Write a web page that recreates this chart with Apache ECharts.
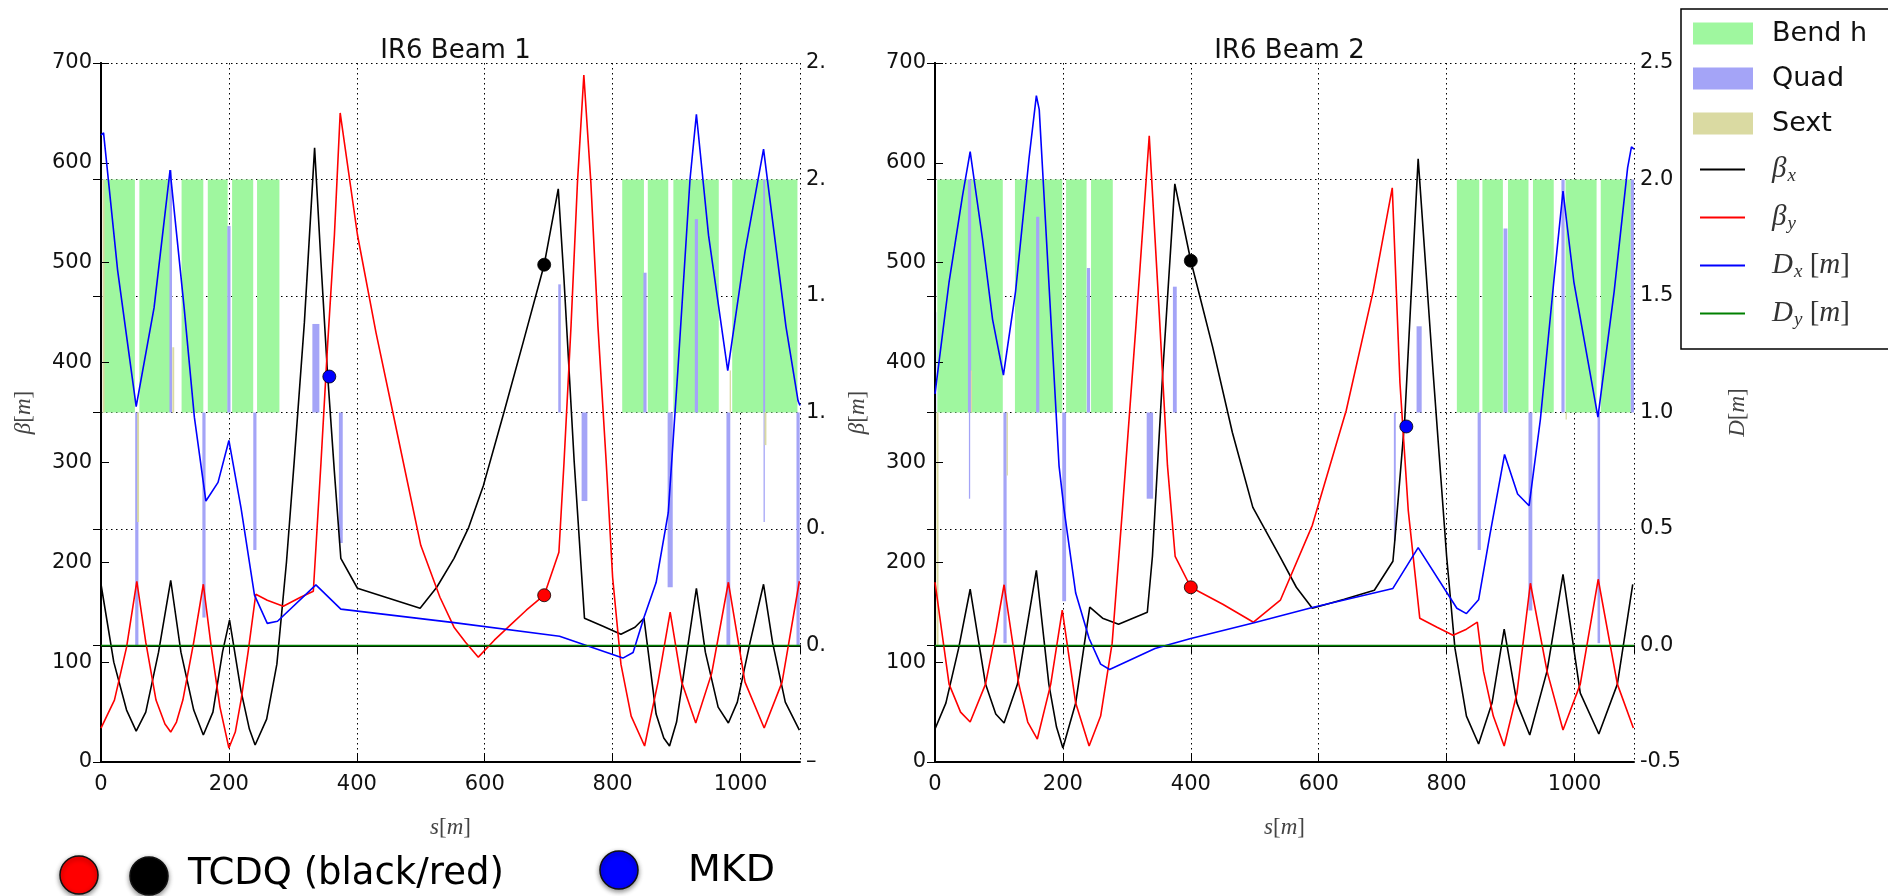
<!DOCTYPE html>
<html><head><meta charset="utf-8">
<script src="https://cdn.jsdelivr.net/npm/echarts/dist/echarts.min.js"></script>
<style>html,body{margin:0;padding:0;background:#fff}#c{width:1888px;height:896px}</style>
</head><body><div id="c"></div><script>
// ---------------- data (s [m], value) ----------------
const sTicks = [0, 200, 400, 600, 800, 1000];
const titles = ['IR6 Beam 1', 'IR6 Beam 2'];

// Beam 1
const betaX1 = [[0,178],[20,100],[40,52],[55,31],[70,50],[90,110],[109,182],[125,110],[145,52],[160,27],[175,50],[190,110],[201,142],[219,71],[232,33],[241,17],[259,43],[275,98],[290,200],[302,300],[318,440],[334,615],[344,500],[354,391],[365,290],[375,204],[401,174],[450,164],[499,154],[525,175],[552,204],[575,235],[598,277],[630,350],[660,420],[693,498],[715,574],[724,483],[740,300],[756,144],[785,136],[813,128],[835,135],[849,144],[868,48],[880,24],[889,16],[900,40],[915,105],[931,174],[945,110],[965,55],[981,39],[995,60],[1015,120],[1036,178],[1050,120],[1070,60],[1092,32]];
const betaY1 = [[0,34],[21,62],[40,115],[56,181],[70,120],[86,62],[100,38],[109,30],[118,40],[128,62],[145,120],[160,178],[172,117],[186,55],[200,14],[210,30],[219,62],[230,110],[242,168],[260,162],[285,156],[312,165],[332,171],[344,300],[354,414],[365,528],[374,650],[401,528],[430,430],[458,345],[500,217],[530,165],[552,135],[570,120],[590,105],[615,122],[640,137],[665,152],[693,167],[716,210],[724,300],[735,437],[745,580],[755,688],[766,580],[777,437],[790,300],[800,185],[813,98],[829,46],[850,16],[871,80],[890,150],[908,80],[930,39],[955,89],[981,180],[1007,80],[1037,34],[1065,80],[1092,181]];
const dispX1 = [[0,2.19],[4,2.2],[26,1.61],[55,1.025],[83,1.45],[108,2.04],[130,1.45],[146,0.98],[164,0.62],[183,0.7],[200,0.88],[219,0.59],[240,0.216],[260,0.095],[276,0.104],[336,0.26],[375,0.156],[552,0.098],[717,0.04],[816,-0.054],[832,-0.03],[849,0.12],[868,0.27],[887,0.57],[902,1.18],[921,2.0],[931,2.28],[950,1.76],[980,1.18],[1007,1.69],[1036,2.13],[1071,1.37],[1090,1.05],[1093,1.03]];
const dispY1 = [[0,0],[1093,0]];
const bends1 = [[3,53],[60,108],[126,160],[167,198],[205,238],[244,279],[815,849],[855,887],[895,966],[987,1089]];
const quads1 = [[56,5,0.0],[109,4,2.04],[161,5,0.12],[200,5,1.8],[240.6,5,0.41],[336,11,1.38],[375,6,0.44],[717,4,1.55],[756,9,0.62],[850.6,5,1.6],[890,8,0.25],[931,5,1.83],[981,6,0.0],[1037,3,2.0],[1037,2,0.53],[1090,5,0.0]];
const sexts1 = [[4,3,2.0],[58,3,0.53],[113,3,1.28],[984,2,1.18],[1039,3,0.86]];
const tcdqBlack1 = [[693,498]];
const tcdqRed1 = [[693,167]];
const mkd1 = [[357,386]];

// Beam 2
const betaX2 = [[0,33],[17,59],[37,114],[55,173],[79,78],[95,48],[108,39],[129,78],[145,140],[158.5,192],[178,78],[190,35],[200,14],[220,59],[242,155],[262,144],[287,138],[332,150],[340,206],[356,389],[375,579],[400,502],[434,416],[465,330],[497,255],[540,205],[565,175],[590,154],[640,163],[687,172],[716,201],[719,222],[734.5,343],[755.5,604],[779,389],[800,206],[813,114],[831,46],[850,18],[871,59],[890,133],[910,59],[930,27],[957,91],[982,188],[1009,69],[1038,28],[1067,78],[1091,178]];
const betaY2 = [[0,180],[22,78],[40,50],[55,40],[79,78],[95,130],[108,177.5],[131,78],[145,40],[160,23],[181,78],[199,152],[220,59],[241,16],[259,46],[277,119],[293,252],[314,435],[335,627],[350,457],[363.5,297],[375.5,206],[400,175],[450,158],[498,140],[540,162],[590,237],[643,352],[685,471],[715,575],[727,380],[740,252],[758,144],[785,135],[810,127],[831,133],[848,140],[857.6,91],[873,46],[890,16],[910,69],[931,179],[957,91],[982,32],[1009,78],[1037,183],[1067,78],[1092,34]];
const dispX2 = [[0,1.08],[22,1.56],[43,1.93],[55,2.12],[74,1.75],[90,1.40],[107,1.16],[126,1.52],[147,2.09],[158.5,2.36],[163,2.30],[178,1.56],[194,0.77],[202,0.58],[220,0.225],[241,0.03],[259,-0.08],[273,-0.103],[344,-0.013],[400,0.03],[499,0.098],[590,0.163],[716,0.245],[755.5,0.42],[816,0.16],[831,0.137],[850,0.196],[868,0.48],[890.6,0.82],[911,0.65],[929,0.60],[946.6,0.97],[967.5,1.56],[982,1.95],[999,1.56],[1036.6,0.98],[1062,1.52],[1083,2.05],[1089,2.14],[1093,2.13]];
const dispY2 = [[0,0],[1093,0]];
const bends2 = [[3.6,106],[125,199],[205,237],[244,278],[816,851],[856,888],[896,928],[935,967.5],[986,1034.5],[1041,1088]];
const quads2 = [[1,2,1.43],[54,5,2.0],[54,2,0.63],[109.5,5,0.01],[160.6,5,1.84],[202,6,0.19],[240,5,1.62],[336,10,0.63],[375,6,1.54],[719,3,0.45],[757,8,1.37],[851,5,0.41],[892,6,1.79],[931,6,0.15],[982,5,2.0],[1038,4,0.01],[1090.5,5,2.0]];
const sexts2 = [[4,3,0.0],[57,2,1.18],[113,2,0.73],[987,2,0.97]];
const tcdqBlack2 = [[400,502]];
const tcdqRed2 = [[400,175]];
const mkd2 = [[737,336]];

// ---------------- chart ----------------
const S_MAX = 1093;
const BEND_LO = 1, BEND_HI = 2, ELEM_BASE = 1;
const C_BEND = '#9ff79f', C_QUAD = '#a4a4f7', C_SEXT = '#dadaa2';
const FONT = 'DejaVu Sans';
const SERIF = 'Liberation Serif';
const panels = [
  {bx: betaX1, by: betaY1, dx: dispX1, dy: dispY1, bends: bends1, quads: quads1, sexts: sexts1, blk: tcdqBlack1, red: tcdqRed1, mkd: mkd1, left: 101},
  {bx: betaX2, by: betaY2, dx: dispX2, dy: dispY2, bends: bends2, quads: quads2, sexts: sexts2, blk: tcdqBlack2, red: tcdqRed2, mkd: mkd2, left: 935}
];
const GT = 63, GW = 699, GH = 699;

const mathRich = {
  g: {fontFamily: SERIF, fontStyle: 'italic', fontSize: 23, color: '#444'},
  n: {fontFamily: SERIF, fontSize: 23, color: '#444'}
};

function blockSeries(name, rows, color, xi, yi) {
  return {
    type: 'custom', name, xAxisIndex: xi, yAxisIndex: yi, data: rows, z: 1,
    itemStyle: {color}, encode: {x: [0, 1], y: [2, 3]}, clip: true, silent: true,
    renderItem(params, api) {
      const a = api.coord([api.value(0), api.value(2)]);
      const b = api.coord([api.value(1), api.value(3)]);
      return {type: 'rect', shape: {x: Math.min(a[0], b[0]), y: Math.min(a[1], b[1]),
        width: Math.max(1.2, Math.abs(b[0] - a[0])), height: Math.abs(b[1] - a[1])},
        style: {fill: color}};
    }
  };
}
function lineSeries(name, data, color, xi, yi) {
  return {type: 'line', name, data, xAxisIndex: xi, yAxisIndex: yi, symbol: 'none', showSymbol: false,
    lineStyle: {color, width: 1.6}, itemStyle: {color}, z: 3, silent: true, clip: true};
}
function dotSeries(name, data, color, xi, yi) {
  return {type: 'scatter', name, data, xAxisIndex: xi, yAxisIndex: yi, symbolSize: 13, z: 6,
    itemStyle: {color, borderColor: '#000', borderWidth: 0.8, opacity: 1}, silent: true};
}

const grids = [], xAxes = [], yAxes = [], series = [], titleArr = [];
panels.forEach((p, i) => {
  grids.push({left: p.left, top: GT, width: GW, height: GH, outerBoundsMode: 'none', containLabel: false});
  const xb = i * 2, yb = i * 2, yd = i * 2 + 1;
  xAxes.push({type: 'value', gridIndex: i, position: 'bottom', min: 0, max: S_MAX, interval: 200, z: 1,
    axisLine: {show: true, lineStyle: {color: '#000', width: 2}},
    axisTick: {show: true, inside: true, length: 8, lineStyle: {color: '#000', width: 1}},
    axisLabel: {show: true, showMaxLabel: false, margin: 12, fontSize: 21, fontFamily: FONT, color: '#111',
      formatter: v => sTicks.includes(v) ? String(v) : ''},
    splitLine: {show: true, lineStyle: {color: '#000', width: 1, type: [1.5, 3.5]}},
    name: '{g|s}{n|[}{g|m}{n|]}', nameLocation: 'middle', nameGap: 54,
    nameTextStyle: {rich: mathRich}});
  xAxes.push({type: 'value', gridIndex: i, position: 'top', min: 0, max: S_MAX, interval: 200, z: 1,
    axisLine: {show: true, lineStyle: {color: '#000', width: 2}},
    axisTick: {show: true, inside: true, length: 8, lineStyle: {color: '#000', width: 1}},
    axisLabel: {show: false}, splitLine: {show: false}});
  yAxes.push({type: 'value', gridIndex: i, position: 'left', min: 0, max: 700, interval: 100, z: 1,
    axisLine: {show: true, lineStyle: {color: '#000', width: 2}},
    axisTick: {show: true, inside: true, length: 8, lineStyle: {color: '#000', width: 1}},
    axisLabel: {margin: 9, fontSize: 21, fontFamily: FONT, color: '#111'},
    splitLine: {show: false},
    name: '{g|β}{n|[}{g|m}{n|]}', nameLocation: 'middle', nameGap: 66, nameRotate: 90,
    nameTextStyle: {rich: mathRich}});
  yAxes.push({type: 'value', gridIndex: i, position: 'right', min: -0.5, max: 2.5, interval: 0.5, z: 1,
    axisLine: {show: true, lineStyle: {color: '#000', width: 2}},
    axisTick: {show: true, inside: true, length: 8, lineStyle: {color: '#000', width: 1}},
    axisLabel: {margin: 6, fontSize: 21, fontFamily: FONT, color: '#111',
      formatter: i === 0 ? (v => v < 0 ? '–' : v.toFixed(1).slice(0, 2)) : (v => v.toFixed(1))},
    splitLine: {show: true, lineStyle: {color: '#000', width: 1, type: [1.5, 3.5]}},
    name: i === 1 ? '{g|D}{n|[}{g|m}{n|]}' : '', nameLocation: 'middle', nameGap: 92, nameRotate: 90,
    nameTextStyle: {rich: mathRich}});
  titleArr.push({text: titles[i], left: p.left + GW / 2, top: 33, textAlign: 'center',
    textStyle: {fontSize: 26, fontWeight: 'normal', fontFamily: FONT, color: '#111'}});

  series.push(blockSeries('Bend h', p.bends.map(b => [b[0], b[1], BEND_LO, BEND_HI]), C_BEND, xb, yd));
  series.push(blockSeries('Quad', p.quads.map(q => [q[0] - q[1] / 2, q[0] + q[1] / 2, ELEM_BASE, q[2]]), C_QUAD, xb, yd));
  series.push(blockSeries('Sext', p.sexts.map(q => [q[0] - q[1] / 2, q[0] + q[1] / 2, ELEM_BASE, q[2]]), C_SEXT, xb, yd));
  series.push(lineSeries('βx', p.bx, '#000000', xb, yb));
  series.push(lineSeries('βy', p.by, '#ff0000', xb, yb));
  series.push(lineSeries('Dx', p.dx, '#0000ff', xb, yd));
  series.push(lineSeries('Dy', p.dy, '#008000', xb, yd));
  series.push(dotSeries('TCDQ black', p.blk, '#000000', xb, yb));
  series.push(dotSeries('TCDQ red', p.red, '#ff0000', xb, yb));
  series.push(dotSeries('MKD', p.mkd, '#0000ff', xb, yb));
});

const legendText = {
  'Bend h': 'Bend h', 'Quad': 'Quad', 'Sext': 'Sext',
  'βx': '{g|β}{s|x}', 'βy': '{g|β}{s|y}',
  'Dx': '{g|D}{s|x}{n| [}{g|m}{n|]}', 'Dy': '{g|D}{s|y}{n| [}{g|m}{n|]}'
};
const LINE_ICON = 'path://M-7,0M53,0M0,0H45V2H0Z';

const chart = echarts.init(document.getElementById('c'), null, {renderer: 'canvas'});
chart.setOption({
  animation: false,
  backgroundColor: '#ffffff',
  title: titleArr,
  grid: grids, xAxis: xAxes, yAxis: yAxes, series,
  legend: {
    left: 1681, top: 9, orient: 'vertical', selectedMode: false, symbolKeepAspect: true,
    borderColor: '#000', borderWidth: 1.5, padding: [11, 34, 20, 12],
    itemWidth: 60, itemHeight: 22, itemGap: 18,
    data: [{name: 'Bend h', icon: 'rect'}, {name: 'Quad', icon: 'rect'}, {name: 'Sext', icon: 'rect'},
      {name: 'βx', icon: LINE_ICON}, {name: 'βy', icon: LINE_ICON}, {name: 'Dx', icon: LINE_ICON}, {name: 'Dy', icon: LINE_ICON}],
    formatter: n => legendText[n],
    textStyle: {fontSize: 27, fontFamily: FONT, color: '#111', padding: [0, 0, 0, 14], lineHeight: 24,
      rich: {
        g: {fontFamily: SERIF, fontStyle: 'italic', fontSize: 29, color: '#333'},
        s: {fontFamily: SERIF, fontStyle: 'italic', fontSize: 19, color: '#333', padding: [12, 0, 0, 1]},
        n: {fontFamily: SERIF, fontSize: 29, color: '#333'}
      }}
  },
  graphic: [
    {type: 'circle', shape: {cx: 79, cy: 875, r: 19}, style: {fill: '#ff0000', stroke: '#111', lineWidth: 1.5, shadowBlur: 5, shadowOffsetY: 2, shadowColor: 'rgba(0,0,0,0.45)'}},
    {type: 'circle', shape: {cx: 149, cy: 876, r: 19}, style: {fill: '#000000', stroke: '#111', lineWidth: 1.5, shadowBlur: 5, shadowOffsetY: 2, shadowColor: 'rgba(0,0,0,0.45)'}},
    {type: 'text', x: 188, y: 874, style: {text: 'TCDQ (black/red)', fontSize: 37, fontFamily: FONT, fill: '#000', verticalAlign: 'middle'}},
    {type: 'circle', shape: {cx: 619, cy: 870, r: 19}, style: {fill: '#0000ff', stroke: '#111', lineWidth: 1.5, shadowBlur: 5, shadowOffsetY: 2, shadowColor: 'rgba(0,0,0,0.45)'}},
    {type: 'text', x: 688, y: 871, style: {text: 'MKD', fontSize: 38, fontFamily: FONT, fill: '#000', verticalAlign: 'middle'}}
  ]
});
</script></body></html>
